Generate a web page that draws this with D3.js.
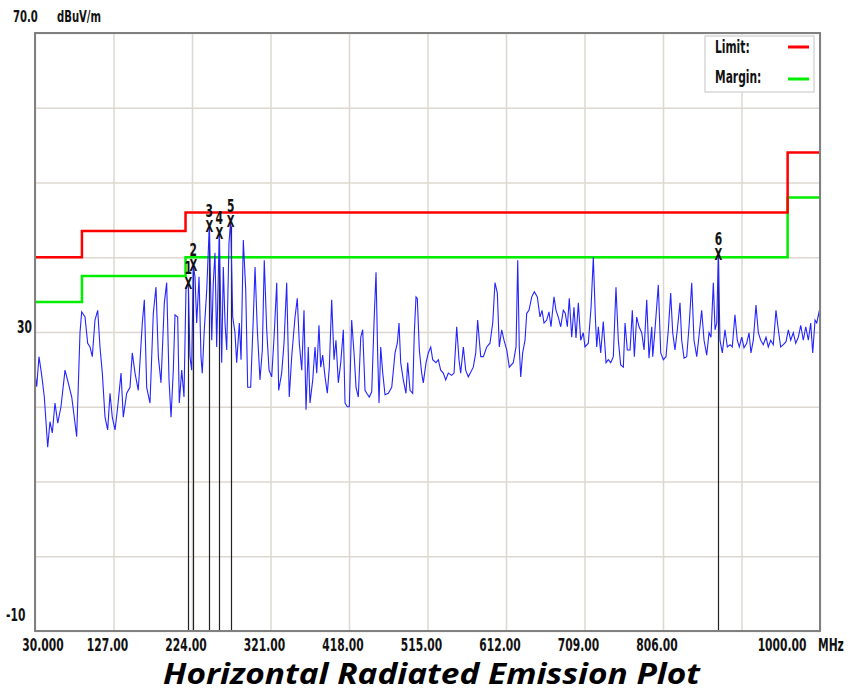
<!DOCTYPE html>
<html>
<head>
<meta charset="utf-8">
<script src="https://cdn.jsdelivr.net/npm/d3@7"></script>
<style>
  body { margin: 0; background: #fff; }
  svg text { font-family: "DejaVu Sans Condensed", "DejaVu Sans", sans-serif; font-weight: bold; fill: #111; }
  svg text.title { font-family: "Open Sans", "DejaVu Sans", sans-serif; font-weight: bold; font-style: italic; fill: #000; }
</style>
</head>
<body>
<div id="chart"></div>
<script>
// ---- data (MHz / dBuV/m) ----
var xTicks = [30, 127, 224, 321, 418, 515, 612, 709, 806, 903, 1000];
var xTickLabels = ["30.000", "127.00", "224.00", "321.00", "418.00", "515.00", "612.00", "709.00", "806.00", "", "1000.00"];
var yGrid = [-10, 0, 10, 20, 30, 40, 50, 60, 70];
var yLabelValues = [70, 30, -10];
var yLabels = ["70.0", "30", "-10"];

var limitFreq = [30, 88, 216, 960, 1000];
var limitLevel = [40, 43.5, 46, 54, 54];
var marginLevel = [34, 37.5, 40, 48, 48];

var markerIds = [1, 2, 3, 4, 5, 6];
var markerFreq = [219.4, 225.6, 245.4, 257.7, 271.8, 874.4];
var markerLevel = [36.6, 38.9, 44.2, 43.2, 44.9, 40.5];

var traceFreq = [
  30.0, 32.1, 34.9, 37.4, 39.0, 41.5, 45.7, 48.5, 51.4, 54.7, 58.1, 62.1, 67.1, 71.1, 75.4, 81.5,
  85.6, 87.7, 91.8, 95.1, 98.0, 100.8, 104.1, 107.5, 110.3, 113.2, 116.5, 119.8, 122.7, 125.5, 128.9,
  132.2, 136.3, 139.1, 143.3, 147.4, 150.2, 153.6, 157.6, 162.6, 165.1, 168.0, 172.1, 176.2, 179.5,
  182.4, 185.7, 189.8, 192.7, 195.6, 198.1, 200.9, 203.0, 206.3, 208.3, 211.3, 214.1, 216.6,
  219.4, 221.5, 223.6, 225.6, 227.7, 229.8, 232.7, 235.1, 236.7, 239.2, 242.2, 245.4, 248.4, 250.3,
  252.4, 254.5, 257.7, 260.7, 262.7, 264.8, 266.9, 269.7, 271.8, 274.3, 277.1, 279.2, 282.5, 284.6,
  287.4, 290.4, 292.8, 296.5, 299.8, 301.9, 304.7, 308.0, 310.9, 313.3, 316.3, 319.2, 322.5, 325.7,
  328.7, 331.1, 334.8, 337.7, 341.0, 344.2, 347.2, 351.3, 354.1, 356.6, 359.6, 362.4, 364.9, 367.7,
  369.8, 373.2, 376.0, 378.1, 380.9, 383.0, 385.5, 388.4, 391.2, 393.7, 396.6, 399.5, 401.9, 404.8,
  407.8, 411.0, 413.1, 415.9, 418.4, 421.3, 424.2, 426.7, 429.5, 432.5, 434.9, 437.8, 439.9, 443.1,
  446.1, 448.9, 451.4, 453.5, 455.1, 457.2, 459.7, 462.5, 466.6, 470.8, 474.9, 477.7, 479.8, 481.9,
  485.1, 488.4, 490.5, 493.4, 496.7, 498.7, 500.8, 502.4, 504.9, 507.8, 509.8, 513.2, 516.0, 519.0,
  521.4, 525.5, 528.4, 531.3, 534.5, 537.5, 540.7, 544.9, 547.8, 551.1, 553.9, 556.0, 559.3, 562.2,
  565.4, 568.4, 571.6, 574.6, 577.0, 579.0, 580.8, 584.0, 588.2, 592.2, 595.6, 598.4, 601.3, 603.7,
  606.7, 609.5, 612.9, 616.1, 621.0, 624.4, 626.5, 628.4, 630.2, 632.6, 635.5, 637.6, 640.4, 643.8,
  647.0, 650.7, 654.0, 656.5, 659.0, 662.3, 665.1, 667.6, 671.3, 673.8, 676.6, 679.6, 682.8, 685.3,
  687.8, 690.2, 693.2, 696.0, 698.5, 701.4, 704.3, 707.5, 709.6, 713.7, 717.1, 719.9, 722.4, 724.1,
  726.1, 729.0, 732.2, 735.6, 738.4, 741.4, 744.6, 747.9, 750.8, 753.7, 757.0, 759.1, 761.9, 765.3,
  768.1, 770.6, 773.5, 776.4, 779.7, 782.6, 785.9, 788.7, 792.1, 793.3, 796.1, 800.2, 803.2, 806.4,
  809.7, 812.6, 815.5, 818.0, 820.8, 823.7, 827.0, 829.1, 832.0, 835.3, 838.5, 841.5, 844.3, 847.7,
  850.9, 853.8, 856.7, 860.0, 862.9, 865.3, 868.2, 870.3, 872.4, 874.4, 876.4, 879.3, 882.6, 885.5,
  888.8, 891.6, 894.9, 897.8, 900.3, 903.3, 906.1, 909.4, 912.3, 914.7, 917.6, 920.9, 923.8, 926.7,
  929.9, 933.3, 936.1, 939.1, 942.3, 945.6, 948.5, 951.4, 954.7, 958.0, 960.9, 963.8, 967.0, 970.0,
  973.2, 976.2, 979.4, 982.4, 985.6, 988.5, 991.0, 993.9, 996.0, 999.2, 1000.0
];
var traceLevel = [
  24.5, 22.7, 26.7, 24.9, 23.6, 21.3, 14.6, 18.0, 16.5, 20.5, 17.8, 20.0, 24.9, 23.2, 21.3, 16.0,
  29.9, 32.7, 32.0, 28.5, 28.0, 26.7, 31.6, 32.9, 28.0, 24.5, 18.6, 16.9, 21.8, 18.6, 16.9,
  20.0, 24.5, 18.6, 21.8, 22.6, 27.2, 24.5, 22.2, 31.2, 34.3, 22.6, 20.5, 32.5, 36.0,
  26.7, 23.2, 33.9, 36.6, 23.6, 18.6, 24.9, 32.3, 32.0, 20.5, 24.9, 21.3, 36.0,
  36.6, 26.7, 24.9, 38.9, 37.4, 31.2, 37.4, 26.7, 24.5, 30.3, 35.6, 44.2, 28.9, 36.6,
  40.6, 28.0, 43.2, 25.9, 38.7, 31.2, 27.6, 41.9, 44.9, 32.0, 29.9, 25.9, 31.2, 26.3,
  42.3, 35.6, 22.6, 22.6, 32.0, 38.7, 30.3, 23.6, 27.6, 39.6, 30.3, 24.9, 24.0, 29.9,
  36.6, 22.2, 24.5, 28.5, 36.6, 21.3, 26.7, 32.0, 34.5, 28.5, 24.9, 32.9, 19.6, 28.0,
  20.5, 23.6, 28.0, 24.5, 30.9, 25.3, 26.9, 24.0, 21.8, 25.3, 34.3, 26.3, 28.9, 23.2,
  25.9, 30.3, 20.5, 20.0, 20.0, 31.6, 27.2, 22.6, 21.3, 29.3, 30.3, 22.2, 21.8, 21.3,
  22.0, 31.2, 38.0, 26.7, 20.5, 28.0, 24.5, 21.6, 21.8, 22.6, 27.2, 28.5, 31.2, 25.9,
  23.6, 21.8, 25.9, 22.2, 21.8, 29.9, 34.7, 34.5, 27.6, 24.5, 23.2, 25.9, 27.2, 28.0,
  26.3, 25.9, 26.3, 24.9, 24.5, 23.6, 24.5, 24.2, 24.5, 30.7, 26.3, 24.5, 28.0, 24.9,
  24.0, 24.6, 25.3, 27.2, 31.6, 28.9, 26.7, 26.7, 28.0, 28.5, 31.2, 36.6, 35.2, 28.0,
  30.3, 28.9, 27.6, 25.3, 25.9, 28.0, 39.6, 28.0, 24.0, 27.2, 28.9, 32.5, 32.9, 34.7,
  35.4, 34.7, 32.0, 32.9, 31.2, 31.6, 32.7, 30.7, 34.7, 32.9, 32.0, 30.7, 32.9, 32.5,
  30.7, 34.5, 29.3, 33.3, 29.2, 33.9, 28.9, 29.9, 28.0, 28.5, 33.3, 40.0, 32.0, 28.0,
  30.7, 27.2, 31.4, 25.9, 26.3, 25.9, 26.7, 36.0, 28.9, 25.6, 25.3, 31.2, 27.6, 27.6,
  32.9, 26.7, 32.0, 30.7, 29.9, 27.6, 34.3, 26.5, 30.7, 26.7, 30.3, 36.3, 27.2, 26.3,
  26.7, 30.3, 35.2, 29.9, 27.6, 30.3, 33.9, 28.9, 26.5, 26.7, 31.2, 36.6, 28.9, 26.7,
  29.9, 32.9, 28.9, 26.9, 29.9, 29.3, 36.6, 30.3, 31.2, 40.5, 28.9, 27.2, 30.3, 28.0,
  28.3, 28.0, 32.3, 28.9, 28.0, 29.3, 27.9, 28.5, 29.9, 27.2, 28.9, 33.6, 29.9, 28.9,
  28.3, 29.3, 28.0, 28.9, 28.3, 32.9, 30.3, 28.0, 28.3, 28.7, 30.3, 28.9, 29.9, 28.5,
  29.3, 30.9, 28.9, 30.7, 28.9, 31.2, 27.2, 31.6, 31.2, 32.9, 28.9
];

// ---- layout ----
var W = 849, H = 692;
var plotLeft = 35, plotRight = 820, plotTop = 33, plotBottom = 631;
var squeeze = 0.7; // the instrument font is tall and narrow

var svg = d3.select("#chart").append("svg")
  .attr("width", W)
  .attr("height", H);

var x = d3.scaleLinear().domain([30, 1000]).range([plotLeft, plotRight]);
var y = d3.scaleLinear().domain([-10, 70]).range([plotBottom, plotTop]);

// put a condensed text at (px, py)
function narrow(sel, px, py, size, anchor) {
  return sel
    .attr("transform", function(d, i) {
      var a = typeof px === "function" ? px(d, i) : px;
      var b = typeof py === "function" ? py(d, i) : py;
      return "translate(" + a + "," + b + ") scale(" + squeeze + ",1)";
    })
    .attr("text-anchor", anchor || "start")
    .style("font-size", size + "px");
}

// grid
svg.append("g")
  .attr("transform", "translate(0," + plotBottom + ")")
  .call(d3.axisBottom(x).tickValues(xTicks).tickSize(-(plotBottom - plotTop)).tickFormat(""))
  .call(function(g) {
    g.select(".domain").remove();
    g.selectAll("line").attr("stroke", "#dcd8d0").attr("stroke-width", 1.5);
  });

svg.append("g")
  .attr("transform", "translate(" + plotLeft + ",0)")
  .call(d3.axisLeft(y).tickValues(yGrid).tickSize(-(plotRight - plotLeft)).tickFormat(""))
  .call(function(g) {
    g.select(".domain").remove();
    g.selectAll("line").attr("stroke", "#dcd8d0").attr("stroke-width", 1.5);
  });

// limit / margin step lines
var stepLine = d3.line()
  .x(function(d) { return x(d[0]); })
  .y(function(d) { return y(d[1]); })
  .curve(d3.curveStepAfter);

svg.append("path")
  .datum(d3.zip(limitFreq, marginLevel))
  .attr("fill", "none")
  .attr("stroke", "#00ee00")
  .attr("stroke-width", 2.5)
  .attr("d", stepLine);

svg.append("path")
  .datum(d3.zip(limitFreq, limitLevel))
  .attr("fill", "none")
  .attr("stroke", "#ff0000")
  .attr("stroke-width", 2.5)
  .attr("d", stepLine);

// marker drop lines
var markers = markerIds.map(function(id, i) {
  return { id: id, f: markerFreq[i], v: markerLevel[i] };
});

svg.append("g").selectAll("line")
  .data(markers)
  .join("line")
  .attr("x1", function(d) { return Math.round(x(d.f)) + 0.5; })
  .attr("x2", function(d) { return Math.round(x(d.f)) + 0.5; })
  .attr("y1", function(d) { return y(d.v) + 6; })
  .attr("y2", plotBottom)
  .attr("stroke", "#222")
  .attr("stroke-width", 1.2);

// emission trace
var trace = d3.zip(traceFreq, traceLevel);
svg.append("path")
  .datum(trace)
  .attr("fill", "none")
  .attr("stroke", "#2424ff")
  .attr("stroke-width", 1.1)
  .attr("d", d3.line()
    .x(function(d) { return x(d[0]); })
    .y(function(d) { return y(d[1]); }));

// marker crosses + numbers (drawn as text like the analyser does)
var mk = svg.append("g");
narrow(mk.selectAll("text.mx").data(markers).join("text").attr("class", "mx"),
  function(d) { return x(d.f); }, function(d) { return y(d.v) + 6; }, 16, "middle")
  .text("X");
narrow(mk.selectAll("text.mn").data(markers).join("text").attr("class", "mn"),
  function(d) { return x(d.f); }, function(d) { return y(d.v) - 9; }, 17, "middle")
  .text(function(d) { return d.id; });

// frame
svg.append("rect")
  .attr("x", plotLeft)
  .attr("y", plotTop)
  .attr("width", plotRight - plotLeft)
  .attr("height", plotBottom - plotTop)
  .attr("fill", "none")
  .attr("stroke", "#808080")
  .attr("stroke-width", 2);

// x tick labels
narrow(svg.append("g").selectAll("text").data(xTicks).join("text"),
  function(d, i) {
    if (i === 0) return x(d) + 8;
    if (i === xTicks.length - 1) return x(d) - 38;
    return x(d) - 6;
  }, plotBottom + 20, 17, "middle")
  .text(function(d, i) { return xTickLabels[i]; });

narrow(svg.append("text"), plotRight - 2, plotBottom + 20, 17).text("MHz");

// y labels
narrow(svg.append("g").selectAll("text").data(yLabelValues).join("text"),
  function(d, i) { return i === 0 ? 13 : (i === 1 ? 17 : 6); },
  function(d, i) {
    if (i === 0) return y(d) - 11;
    if (i === yLabelValues.length - 1) return y(d) - 10;
    return y(d) + 1;
  }, 17)
  .style("font-size", function(d, i) { return i === 0 ? "16px" : "17px"; })
  .text(function(d, i) { return yLabels[i]; });

narrow(svg.append("text"), 57, 22, 16).text("dBuV/m");

// legend
var lg = svg.append("g").attr("transform", "translate(705,36)");
lg.append("rect")
  .attr("width", 109)
  .attr("height", 56)
  .attr("fill", "#fff")
  .attr("stroke", "#d8d8d8")
  .attr("stroke-width", 1.5);
var legendItems = [["Limit:", "#ff0000"], ["Margin:", "#00ee00"]];
legendItems.forEach(function(item, i) {
  narrow(lg.append("text"), 10, 17 + i * 30, 17).text(item[0]);
  lg.append("line")
    .attr("x1", 83)
    .attr("x2", 104)
    .attr("y1", 11 + i * 32)
    .attr("y2", 11 + i * 32)
    .attr("stroke", item[1])
    .attr("stroke-width", 3);
});

// title
svg.append("text")
  .attr("class", "title")
  .attr("x", 163)
  .attr("y", 684)
  .attr("textLength", 537)
  .attr("lengthAdjust", "spacingAndGlyphs")
  .style("font-size", "29px")
  .text("Horizontal Radiated Emission Plot");
</script>
</body>
</html>
